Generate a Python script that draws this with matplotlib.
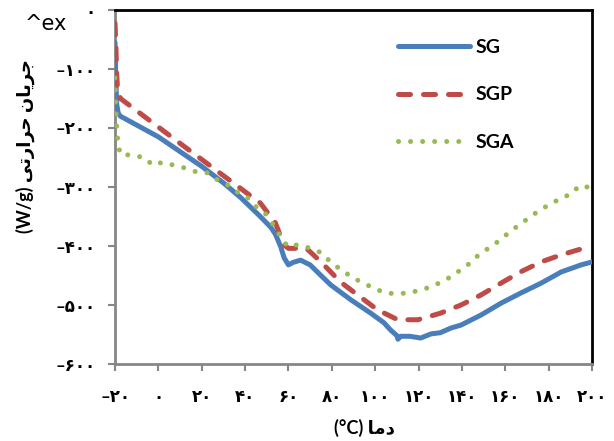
import matplotlib
matplotlib.use("Agg")
import matplotlib.pyplot as plt

# ---------------- data ----------------
t_sg = [-20, -19.6, -19.2, -18.5, -17.5, 0, 10, 20, 30, 38, 42.5, 47, 51.8, 54, 56.4,
        58, 60, 62, 65.6, 70, 75, 79.5, 88.7, 98, 104, 107, 110, 110.5, 111.8, 116,
        121, 125.7, 130, 135, 139.6, 148.8, 158, 167, 176.5, 185.8, 195, 200]
sg = [-55, -120, -160, -175, -180, -215, -240, -265, -293, -318, -334, -350, -368, -380, -401,
      -420, -432, -428, -424, -432, -450, -466, -491, -514, -530, -542, -552, -558, -553, -553,
      -556, -549, -547, -539, -534, -517, -497, -480, -463, -444, -432, -427]

t_sgp = [-20, -19.6, -19.2, -18.8, -17.5, 10, 44, 47, 54, 57.9, 60, 62.4, 68, 75, 84, 93,
         101, 110.4, 116.5, 119.7, 130, 139.6, 148.8, 158, 167, 176.5, 185.8, 195, 200]
sgp = [-22, -60, -110, -135, -150, -226, -319, -327, -361, -398, -404, -404, -403, -427, -461, -486,
       -508, -525, -525, -525, -514, -500, -483, -463, -444, -427, -415, -405, -403]

t_sga = [-20, -19.7, -19.4, -19, -18.5, -17.5, -11.5, -6, -3, -2, 1.8, 7, 12.5, 18, 22.6, 27.3,
         32.3, 37, 42, 45.7, 50, 53, 56.4, 59.6, 64, 69.3, 74.9, 78.6, 83, 87.8, 92.4, 98,
         103.5, 108.6, 114, 119.7, 125, 130, 135, 140, 144.5, 148, 153, 157.6, 162, 166.5,
         171, 175.6, 180.7, 185.8, 190.8, 194, 197.7]
sga = [-115, -150, -185, -210, -228, -245, -246, -251, -262, -263, -258, -263, -268, -275, -276, -288,
       -297, -310, -320, -336, -347, -364, -384, -401, -398, -403, -411, -424, -437, -449, -459, -469,
       -478, -481, -480, -476, -470, -462, -452, -439, -427, -414, -402, -390, -376, -364,
       -352, -340, -329, -319, -311, -298, -300]

series_names = ["SG", "SGP", "SGA"]
x_ticks = list(range(-20, 201, 20))
y_ticks = list(range(-600, 1, 100))

# Persian digits helper
PD = str.maketrans("0123456789", "\u06F0\u06F1\u06F2\u06F3\u06F4\u06F5\u06F6\u06F7\u06F8\u06F9")
def fa(v):
    s = str(abs(v)).translate(PD)
    return ("\u2013" + s) if v < 0 else s

# pre-shaped (visual order) Persian labels
xlabel_txt = "(\u00b0C) " + "\uFE8E\uFEE3\uFEA9"                       # دما (°C)
ylabel_txt = ("(W/g) " + "\uFEF0\uFE97\uFEAD\uFE8D\uFEAE\uFEA3" + " "
              + "\uFEE5\uFE8E\uFEF3\uFEAE\uFE9F")                         # جریان حرارتی (W/g)

FAM = ["Lato", "DejaVu Sans"]
plt.rcParams["font.family"] = FAM

fig = plt.figure(figsize=(6.14, 4.41), dpi=100)
ax = fig.add_axes([115/614, 1-364/441, (592-115)/614, (364-10)/441])

blue, red, green = "#4A7EBB", "#BE4B48", "#98B954"
lw = 3.6
ax.plot(t_sg, sg, color=blue, lw=lw, solid_capstyle="round", solid_joinstyle="round", label=series_names[0], zorder=3)
ax.plot(t_sgp, sgp, color=red, lw=lw, dash_capstyle="round", linestyle=(0, (2.4, 2.6)), label=series_names[1], zorder=4)
ax.plot(t_sga, sga, color=green, lw=lw, dash_capstyle="round", linestyle=(0, (0.01, 2.4)), label=series_names[2], zorder=5)

ax.set_xlim(-20, 200)
ax.set_ylim(-600, 0)
ax.set_xticks(x_ticks)
ax.set_yticks(y_ticks)
ax.set_xticklabels([fa(v) for v in x_ticks], fontweight="bold", fontsize=12)
ax.set_yticklabels([fa(v) for v in y_ticks], fontweight="bold", fontsize=12)
ax.tick_params(axis="both", direction="out", length=5, width=1.5, color="#868686")
ax.tick_params(axis="y", pad=9)
ax.tick_params(axis="x", pad=13)

for s in ["left", "bottom"]:
    ax.spines[s].set_color("#868686")
    ax.spines[s].set_linewidth(2)
for s in ["top", "right"]:
    ax.spines[s].set_color("black")
    ax.spines[s].set_linewidth(2)

fig.text(364/614, 1-428/441, xlabel_txt, fontweight="bold", fontsize=13, ha="center", va="center")
fig.text(25/614, 1-146/441, ylabel_txt, fontweight="bold", fontsize=13, ha="center", va="center",
         rotation=90)

leg = ax.legend(loc="upper left", bbox_to_anchor=(0.5566, 0.968), frameon=False,
                handlelength=3.7, labelspacing=1.57, handletextpad=0.3,
                prop={"weight": "bold", "size": 14, "family": FAM})

fig.text(25/614, 1-24/441, "^ex", fontsize=15, va="center", ha="left", family="DejaVu Sans")

fig.savefig("out.png", dpi=100)
